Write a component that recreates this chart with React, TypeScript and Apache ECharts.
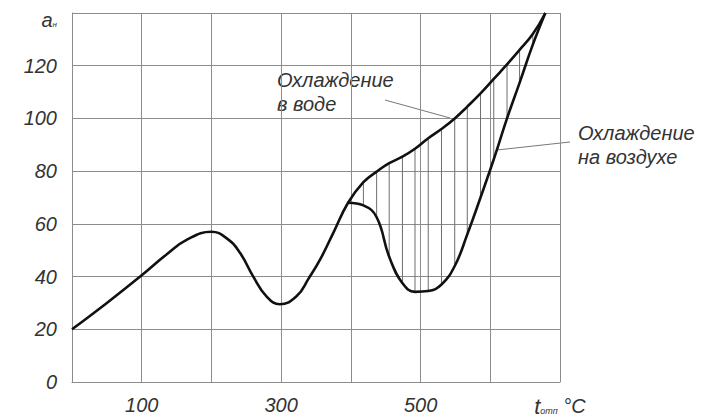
import React, { useEffect, useRef } from "react";
import * as echarts from "echarts";

// Shared part of both curves (temperature, impact toughness)
const commonX = [0, 50, 100, 136, 165, 200, 222, 241, 260, 279, 298, 322, 340, 356, 375, 396];
const commonY = [20, 30, 40.5, 48.5, 54, 57, 54.5, 49, 40, 32.5, 29.5, 32.5, 39.5, 46.5, 56.7, 68];

// Split part (hatched region) – x positions of hatch lines
const splitX = [418, 437, 455, 474, 492, 511, 530, 549, 567, 586, 605, 624, 642, 661];
const waterY = [75.8, 79.8, 83, 85.5, 88.5, 92.5, 96, 100, 104.5, 109.5, 115, 120.5, 126, 132];
const airY = [67, 62.5, 47.5, 37.5, 34.2, 34.5, 37, 44, 56, 70, 84.5, 100, 113.5, 128];

const endX = 679;
const endY = 140;

const xLabels = [100, 300, 500];
const yLabels = [0, 20, 40, 60, 80, 100, 120];

const FONT = "Liberation Sans";
const TXT = "#333333";

export default function App() {
  const ref = useRef<HTMLDivElement>(null);
  useEffect(() => {
    if (!ref.current) return;
    const chart = echarts.init(ref.current, null, { renderer: "svg" });

    const waterData: number[][] = [];
    commonX.forEach((x, i) => waterData.push([x, commonY[i]]));
    splitX.forEach((x, i) => waterData.push([x, waterY[i]]));
    waterData.push([endX, endY]);

    const airData: number[][] = [];
    airData.push([commonX[commonX.length - 1], commonY[commonY.length - 1]]);
    splitX.forEach((x, i) => airData.push([x, airY[i]]));
    airData.push([endX, endY]);

    const hatchData = splitX.map((x, i) => [x, airY[i], waterY[i]]);

    const gridColor = "#8c8c8c";
    const labelStyle = { fontFamily: FONT, fontStyle: "italic", fontWeight: "normal", color: TXT };

    chart.setOption({
      animation: false,
      backgroundColor: "#ffffff",
      grid: { left: 72, right: 145, top: 13, bottom: 34 },
      xAxis: {
        type: "value",
        min: 0,
        max: 700,
        interval: 100,
        axisLine: { show: true, lineStyle: { color: gridColor, width: 1 } },
        axisTick: { show: false },
        splitLine: { show: true, lineStyle: { color: gridColor, width: 1 } },
        axisLabel: {
          margin: 13,
          ...labelStyle,
          fontSize: 20,
          formatter: (v: number) => {
            if (xLabels.includes(v)) return "{n|" + v + "}";
            if (v === 700) return "{t|t}{s|отп} {c|°C}";
            return "";
          },
          rich: {
            n: { ...labelStyle, fontSize: 20 },
            t: { ...labelStyle, fontSize: 22 },
            s: { ...labelStyle, fontSize: 9, padding: [10, 0, 0, 0] },
            c: { ...labelStyle, fontSize: 20 },
          },
        },
      },
      yAxis: {
        type: "value",
        min: 0,
        max: 140,
        interval: 20,
        axisLine: { show: true, lineStyle: { color: gridColor, width: 1 } },
        axisTick: { show: false },
        splitLine: { show: true, lineStyle: { color: gridColor, width: 1 } },
        axisLabel: {
          margin: 15,
          ...labelStyle,
          fontSize: 20,
          formatter: (v: number) => {
            if (yLabels.includes(v)) return "{n|" + v + "}";
            if (v === 140) return "{a|a}{s|н}";
            return "";
          },
          rich: {
            n: { ...labelStyle, fontSize: 20 },
            a: { ...labelStyle, fontSize: 20, padding: [14, 0, 0, 0] },
            s: { ...labelStyle, fontSize: 8, padding: [22, 0, 0, 0] },
          },
        },
      },
      series: [
        {
          type: "custom",
          silent: true,
          data: hatchData,
          renderItem: (params: any, api: any) => {
            const p1 = api.coord([api.value(0), api.value(1)]);
            const p2 = api.coord([api.value(0), api.value(2)]);
            return {
              type: "line",
              shape: { x1: p1[0], y1: p1[1], x2: p2[0], y2: p2[1] },
              style: { stroke: "#6e6e6e", lineWidth: 1 },
            };
          },
          z: 2,
        },
        {
          type: "line",
          name: "water",
          data: waterData,
          smooth: 0.45,
          showSymbol: false,
          lineStyle: { color: "#111", width: 2.6 },
          z: 3,
        },
        {
          type: "line",
          name: "air",
          data: airData,
          smooth: 0.45,
          showSymbol: false,
          lineStyle: { color: "#111", width: 2.6 },
          z: 3,
        },
      ],
      graphic: [
        {
          type: "text",
          left: 277,
          top: 68,
          style: {
            text: "Охлаждение\nв воде",
            fontFamily: FONT,
            fontStyle: "italic",
            fontSize: 20,
            lineHeight: 24,
            fill: TXT,
          },
        },
        {
          type: "line",
          shape: { x1: 385, y1: 100, x2: 450, y2: 118 },
          style: { stroke: "#777", lineWidth: 1 },
        },
        {
          type: "text",
          left: 578,
          top: 121,
          style: {
            text: "Охлаждение\nна воздухе",
            fontFamily: FONT,
            fontStyle: "italic",
            fontSize: 20,
            lineHeight: 24,
            fill: TXT,
          },
        },
        {
          type: "line",
          shape: { x1: 570, y1: 142, x2: 497, y2: 150 },
          style: { stroke: "#777", lineWidth: 1 },
        },
      ],
    });
    return () => chart.dispose();
  }, []);

  return (
    <div
      ref={ref}
      style={{ position: "fixed", left: 0, top: 0, width: 705, height: 417, background: "#fff" }}
    />
  );
}
